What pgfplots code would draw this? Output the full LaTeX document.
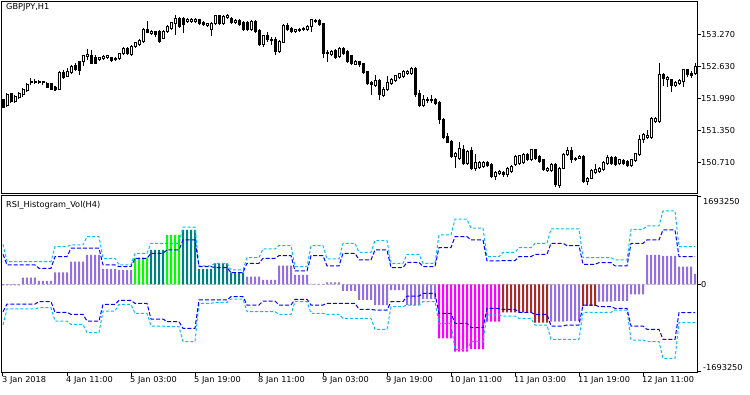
\documentclass[border=0pt]{standalone}
\usepackage{fontspec}
\setmainfont{DejaVu Sans}
\usepackage{pgfplots}
\usepackage{pgfplotstable}
\pgfplotsset{compat=1.18}
\definecolor{mpurple}{RGB}{147,112,219}
\definecolor{mlime}{RGB}{0,255,0}
\definecolor{mteal}{RGB}{0,128,128}
\definecolor{mmag}{RGB}{255,0,255}
\definecolor{mbrown}{RGB}{165,42,42}
\definecolor{mcyan}{RGB}{0,191,255}
\definecolor{mblue}{RGB}{0,0,255}
\definecolor{mgray}{RGB}{192,192,192}

\pgfplotstableread{
i o h l c
0 151.956 151.983 151.789 151.809
1 151.836 152.089 151.823 152.056
2 152.076 152.103 151.903 151.923
3 151.923 152.049 151.889 152.023
4 152.009 152.123 151.983 152.089
5 152.056 152.189 152.023 152.156
6 152.143 152.289 152.123 152.256
7 152.303 152.389 152.256 152.323
8 152.309 152.369 152.276 152.329
9 152.303 152.356 152.276 152.323
10 152.296 152.343 152.256 152.316
11 152.289 152.316 152.189 152.209
12 152.276 152.289 152.156 152.169
13 152.209 152.236 152.143 152.156
14 152.169 152.529 152.156 152.503
15 152.503 152.556 152.383 152.409
16 152.423 152.589 152.409 152.523
17 152.503 152.656 152.476 152.623
18 152.636 152.689 152.529 152.556
19 152.723 152.743 152.456 152.543
20 152.716 152.856 152.636 152.836
21 152.823 152.969 152.756 152.856
22 152.836 152.956 152.676 152.689
23 152.809 152.856 152.669 152.689
24 152.769 152.823 152.743 152.796
25 152.789 152.849 152.756 152.823
26 152.796 152.856 152.769 152.836
27 152.796 152.823 152.716 152.743
28 152.756 152.809 152.729 152.783
29 152.783 152.903 152.756 152.876
30 152.876 153.023 152.849 152.983
31 152.983 153.009 152.863 152.889
32 152.856 153.056 152.836 153.023
33 153.023 153.123 153.003 153.103
34 153.056 153.169 153.036 153.136
35 153.123 153.389 153.103 153.369
36 153.356 153.543 153.289 153.309
37 153.289 153.356 153.263 153.316
38 153.323 153.343 153.223 153.256
39 153.323 153.356 153.103 153.123
40 153.189 153.356 153.169 153.323
41 153.316 153.449 153.289 153.423
42 153.383 153.523 153.356 153.503
43 153.489 153.656 153.256 153.589
44 153.589 153.623 153.396 153.423
45 153.583 153.609 153.303 153.456
46 153.516 153.589 153.489 153.556
47 153.516 153.596 153.489 153.569
48 153.529 153.589 153.503 153.569
49 153.556 153.583 153.463 153.489
50 153.503 153.529 153.436 153.456
51 153.443 153.503 153.423 153.476
52 153.369 153.516 153.236 153.489
53 153.476 153.656 153.449 153.636
54 153.636 153.663 153.456 153.476
55 153.489 153.656 153.463 153.623
56 153.609 153.676 153.583 153.636
57 153.589 153.623 153.476 153.503
58 153.503 153.569 153.476 153.543
59 153.543 153.569 153.436 153.456
60 153.503 153.529 153.343 153.369
61 153.503 153.529 153.329 153.356
62 153.356 153.556 153.329 153.523
63 153.523 153.556 153.303 153.323
64 153.343 153.369 153.036 153.056
65 153.056 153.263 153.023 153.236
66 153.236 153.323 153.123 153.156
67 153.143 153.223 153.056 153.169
68 153.169 153.209 152.856 152.923
69 152.923 153.156 152.903 153.123
70 153.103 153.476 153.089 153.436
71 153.436 153.489 153.343 153.369
72 153.389 153.423 153.289 153.323
73 153.323 153.383 153.303 153.356
74 153.343 153.396 153.316 153.369
75 153.356 153.423 153.329 153.389
76 153.369 153.449 153.343 153.423
77 153.423 153.583 153.323 153.556
78 153.523 153.576 153.489 153.543
79 153.543 153.569 153.436 153.456
80 153.476 153.489 152.789 152.889
81 152.876 152.956 152.723 152.903
82 152.856 152.956 152.836 152.923
83 152.943 152.969 152.783 152.809
84 152.823 153.009 152.796 152.989
85 152.989 153.009 152.863 152.889
86 152.923 152.956 152.689 152.723
87 152.836 152.863 152.649 152.676
88 152.669 152.756 152.649 152.723
89 152.723 152.743 152.623 152.656
90 152.676 152.703 152.476 152.503
91 152.523 152.543 152.263 152.289
92 152.303 152.329 152.056 152.256
93 152.236 152.456 152.209 152.343
94 152.343 152.369 151.956 152.056
95 152.036 152.209 152.009 152.169
96 152.156 152.436 152.129 152.303
97 152.276 152.396 152.249 152.369
98 152.343 152.463 152.316 152.436
99 152.409 152.503 152.383 152.476
100 152.423 152.556 152.396 152.523
101 152.489 152.556 152.463 152.523
102 152.489 152.609 152.463 152.589
103 152.589 152.609 152.009 152.056
104 152.076 152.156 151.809 151.836
105 151.836 152.056 151.809 151.969
106 151.943 152.023 151.889 151.963
107 151.943 152.056 151.889 151.963
108 151.969 151.989 151.863 151.889
109 151.903 151.929 151.476 151.556
110 151.569 151.596 151.183 151.209
111 151.223 151.289 151.089 151.103
112 151.123 151.156 150.796 150.823
113 150.823 150.923 150.589 150.876
114 150.789 151.123 150.756 150.989
115 150.969 151.056 150.649 150.676
116 150.676 150.956 150.649 150.923
117 150.943 151.023 150.556 150.589
118 150.589 150.876 150.543 150.703
119 150.609 150.729 150.583 150.703
120 150.623 150.729 150.596 150.703
121 150.703 150.729 150.609 150.636
122 150.656 150.689 150.396 150.423
123 150.423 150.529 150.356 150.503
124 150.489 150.556 150.463 150.516
125 150.503 150.543 150.423 150.456
126 150.456 150.623 150.423 150.589
127 150.523 150.656 150.489 150.623
128 150.656 150.849 150.636 150.823
129 150.689 150.863 150.663 150.836
130 150.703 150.889 150.676 150.856
131 150.856 150.889 150.729 150.756
132 150.756 150.983 150.729 150.956
133 150.956 150.983 150.756 150.789
134 150.823 150.849 150.689 150.723
135 150.756 150.783 150.543 150.569
136 150.543 150.623 150.516 150.589
137 150.543 150.689 150.516 150.656
138 150.656 150.689 150.223 150.256
139 150.236 150.623 150.189 150.589
140 150.589 150.889 150.569 150.856
141 150.856 151.023 150.836 150.943
142 150.943 151.023 150.689 150.769
143 150.769 150.823 150.743 150.789
144 150.789 150.849 150.769 150.823
145 150.823 150.849 150.303 150.323
146 150.323 150.423 150.256 150.389
147 150.389 150.569 150.369 150.543
148 150.503 150.676 150.476 150.556
149 150.523 150.623 150.503 150.589
150 150.569 150.729 150.543 150.703
151 150.689 150.849 150.663 150.809
152 150.809 150.836 150.663 150.689
153 150.809 150.836 150.636 150.656
154 150.676 150.783 150.649 150.756
155 150.743 150.769 150.663 150.689
156 150.723 150.756 150.609 150.636
157 150.636 150.783 150.609 150.756
158 150.743 150.903 150.716 150.876
159 150.856 151.263 150.836 151.169
160 151.169 151.289 151.089 151.256
161 151.209 151.356 151.183 151.236
162 151.209 151.623 151.183 151.589
163 151.523 151.623 151.503 151.589
164 151.523 152.689 151.503 152.456
165 152.456 152.503 152.236 152.389
166 152.356 152.436 152.223 152.409
167 152.356 152.383 152.123 152.236
168 152.236 152.329 152.209 152.303
169 152.276 152.369 152.249 152.343
170 152.323 152.583 152.223 152.556
171 152.556 152.583 152.423 152.456
172 152.489 152.529 152.389 152.436
173 152.476 152.703 152.449 152.623
}\candles
\pgfplotstablecreatecol[create col/expr={min(\thisrow{o},\thisrow{c})}]{lo}\candles
\pgfplotstablecreatecol[create col/expr={max(\thisrow{c}-\thisrow{o},0)}]{up}\candles
\pgfplotstablecreatecol[create col/expr={max(\thisrow{o}-\thisrow{c},0)}]{dn}\candles
\pgfplotstablecreatecol[create col/expr={(\thisrow{h}+\thisrow{l})/2}]{m}\candles
\pgfplotstablecreatecol[create col/expr={(\thisrow{h}-\thisrow{l})/2}]{r}\candles

\pgfplotsset{
  mt/.style={anchor=south west, scale only axis, width=695pt, xmin=-0.25, xmax=173.5,
    axis line style={line width=1pt},
    tick style={black, line width=1pt}, tick align=outside, major tick length=4pt,
    ytick pos=right, xtick pos=bottom,
    tick label style={font=\fontsize{8.2}{10}\selectfont, inner sep=0pt},
    yticklabel style={anchor=west},
    scaled y ticks=false, scaled x ticks=false,
    /pgf/number format/assume math mode=true,
    /pgf/number format/1000 sep={},
  },
  hb/.style={ybar, bar width=2pt, bar shift=0pt, draw=none, fill=#1},
}

\begin{document}
\begin{tikzpicture}[font=\fontsize{8.2}{10}\selectfont]
\useasboundingbox (0,0) rectangle (750pt,394pt);
% ---------- price panel: frame, ticks and wicks
\begin{axis}[mt, at={(2pt,200pt)}, height=192pt, ymin=150.076, ymax=153.916,
  xtick=\empty, ytick={150.71,151.35,151.99,152.63,153.27},
  yticklabel style={/pgf/number format/fixed, /pgf/number format/fixed zerofill, /pgf/number format/precision=3}]
\addplot[draw=none, error bars/.cd, y dir=both, y explicit, error mark=none,
  error bar style={draw=black, solid, line width=1pt}] table[x=i, y=m, y error=r]{\candles};
\end{axis}
% ---------- candle bodies
\begin{axis}[at={(2pt,200pt)}, anchor=south west, scale only axis, width=695pt, height=192pt,
  xmin=-0.25, xmax=173.5, ymin=150.076, ymax=153.916, hide axis, ybar stacked, bar width=2pt]
\addplot[draw=none, fill=none] table[x=i, y=lo]{\candles};
\addplot[draw=black, fill=white, line width=1pt] table[x=i, y=up]{\candles};
\addplot[draw=black, fill=black, line width=1pt] table[x=i, y=dn]{\candles};
\end{axis}
% ---------- indicator panel
\begin{axis}[mt, at={(2pt,22pt)}, height=176pt, ymin=-1695000, ymax=1707000,
  ytick={-1693250,0,1693250}, yticklabels={,0,},
  xtick={0,16,32,48,64,80,96,112,128,144,160},
  xticklabels={3 Jan 2018,4 Jan 11:00,5 Jan 03:00,5 Jan 19:00,8 Jan 11:00,9 Jan 03:00,9 Jan 19:00,10 Jan 11:00,11 Jan 03:00,11 Jan 19:00,12 Jan 11:00},
  xticklabel style={anchor=north west, xshift=-1pt}]
\addplot[mgray, line width=1pt, dash pattern=on 3pt off 2pt] coordinates {(-0.25,0) (173.5,0)};
\addplot[hb=mpurple] coordinates {
(0,-20000) (1,-20000) (2,-20000) (3,-20000) (4,-20000)
(5,129000) (6,129000) (7,129000) (8,129000)
(9,65000) (10,65000) (11,65000) (12,65000)
(13,232000) (14,232000) (15,232000) (16,232000)
(17,439000) (18,439000) (19,439000) (20,439000)
(21,568000) (22,568000) (23,568000) (24,568000)
(25,297000) (26,297000) (27,297000) (28,297000)
(29,277000) (30,277000) (31,277000) (32,277000)
(61,148000) (62,148000) (63,148000) (64,148000)
(65,84000) (66,84000) (67,84000) (68,84000)
(69,361000) (70,361000) (71,361000) (72,361000)
(73,181000) (74,181000) (75,181000) (76,181000)
(77,10000) (78,10000) (79,10000) (80,10000)
(81,38000) (82,38000) (83,38000) (84,38000)
(85,-129000) (86,-129000) (87,-129000) (88,-129000)
(89,-303000) (90,-303000) (91,-303000) (92,-303000)
(93,-400000) (94,-400000) (95,-400000) (96,-400000)
(97,-110000) (98,-110000) (99,-110000) (100,-110000)
(101,-400000) (102,-400000) (103,-400000) (104,-400000)
(105,-284000) (106,-284000) (107,-284000) (108,-284000)
(137,-722000) (138,-722000) (139,-722000) (140,-722000)
(141,-710000) (142,-710000) (143,-710000) (144,-710000)
(149,-335000) (150,-335000) (151,-335000) (152,-335000)
(153,-322000) (154,-322000) (155,-322000) (156,-322000)
(157,-194000) (158,-194000) (159,-194000) (160,-194000)
(161,568000) (162,568000) (163,568000) (164,568000)
(165,548000) (166,548000) (167,548000) (168,548000)
(169,342000) (170,342000) (171,342000) (172,342000)
(173,200000)};
\addplot[hb=mlime] coordinates {
(33,516000) (34,516000) (35,516000) (36,516000)
(41,955000) (42,955000) (43,955000) (44,955000)};
\addplot[hb=mteal] coordinates {
(37,664000) (38,664000) (39,664000) (40,664000)
(45,1051000) (46,1051000) (47,1051000) (48,1051000)
(49,297000) (50,297000) (51,297000) (52,297000)
(53,406000) (54,406000) (55,406000) (56,406000)
(57,232000) (58,232000) (59,232000) (60,232000)};
\addplot[hb=mmag] coordinates {
(109,-1045000) (110,-1045000) (111,-1045000) (112,-1045000)
(113,-1303000) (114,-1303000) (115,-1303000) (116,-1303000)
(117,-1251000) (118,-1251000) (119,-1251000) (120,-1251000)
(121,-722000) (122,-722000) (123,-722000) (124,-722000)};
\addplot[hb=mbrown] coordinates {
(125,-542000) (126,-542000) (127,-542000) (128,-542000)
(129,-542000) (130,-542000) (131,-542000) (132,-542000)
(133,-742000) (134,-742000) (135,-742000) (136,-742000)
(145,-419000) (146,-419000) (147,-419000) (148,-419000)};
% upper cyan
\addplot[mcyan, line width=1pt, dash pattern=on 3pt off 2pt] coordinates {
(0,774000) (1,439000) (4,439000) (5,439000) (8,439000) (9,439000) (12,439000) (13,729000) (16,729000) (17,761000) (20,761000) (21,922000) (24,922000) (25,503000) (28,503000) (29,374000) (32,374000) (33,600000) (36,600000) (37,793000) (40,793000) (41,793000) (44,793000) (45,1103000) (48,1103000) (49,355000) (52,355000) (53,406000) (56,406000) (57,277000) (60,277000) (61,516000) (64,516000) (65,684000) (68,684000) (69,748000) (72,748000) (73,342000) (76,342000) (77,748000) (80,748000) (81,490000) (84,490000) (85,793000) (88,793000) (89,619000) (92,619000) (93,845000) (96,845000) (97,406000) (100,406000) (101,581000) (104,581000) (105,406000) (108,406000) (109,955000) (112,955000) (113,1258000) (116,1258000) (117,1084000) (120,1084000) (121,535000) (124,535000) (125,619000) (128,619000) (129,710000) (132,710000) (133,793000) (136,793000) (137,1071000) (140,1071000) (141,1071000) (144,1071000) (145,516000) (148,516000) (149,516000) (152,516000) (153,471000) (156,471000) (157,1064000) (160,1064000) (161,1129000) (164,1129000) (165,1419000) (168,1419000) (169,729000) (172,729000) (173,729000)};
% lower cyan
\addplot[mcyan, line width=1pt, dash pattern=on 3pt off 2pt] coordinates {
(0,-787000) (1,-477000) (4,-477000) (5,-477000) (8,-477000) (9,-452000) (12,-452000) (13,-710000) (16,-710000) (17,-774000) (20,-774000) (21,-935000) (24,-935000) (25,-516000) (28,-516000) (29,-387000) (32,-387000) (33,-561000) (36,-561000) (37,-806000) (40,-806000) (41,-819000) (44,-819000) (45,-1109000) (48,-1109000) (49,-368000) (52,-368000) (53,-348000) (56,-348000) (57,-284000) (60,-284000) (61,-529000) (64,-529000) (65,-529000) (68,-529000) (69,-581000) (72,-581000) (73,-335000) (76,-335000) (77,-561000) (80,-561000) (81,-581000) (84,-581000) (85,-658000) (88,-658000) (89,-658000) (92,-658000) (93,-871000) (96,-871000) (97,-432000) (100,-432000) (101,-400000) (104,-400000) (105,-335000) (108,-335000) (109,-755000) (112,-755000) (113,-1258000) (116,-1258000) (117,-1109000) (120,-1109000) (121,-593000) (124,-593000) (125,-613000) (128,-613000) (129,-658000) (132,-658000) (133,-787000) (136,-787000) (137,-1064000) (140,-1064000) (141,-1064000) (144,-1064000) (145,-542000) (148,-542000) (149,-542000) (152,-542000) (153,-497000) (156,-497000) (157,-1077000) (160,-1077000) (161,-1109000) (164,-1109000) (165,-1432000) (168,-1432000) (169,-742000) (172,-742000) (173,-742000)};
% upper blue
\addplot[mblue, line width=1pt, dash pattern=on 4pt off 2pt] coordinates {
(0,580000) (1,374000) (4,374000) (5,374000) (8,374000) (9,310000) (12,310000) (13,535000) (16,535000) (17,697000) (20,697000) (21,697000) (24,697000) (25,374000) (28,374000) (29,342000) (32,342000) (33,503000) (36,503000) (37,600000) (40,600000) (41,664000) (44,664000) (45,858000) (48,858000) (49,342000) (52,342000) (53,323000) (56,323000) (57,226000) (60,226000) (61,406000) (64,406000) (65,503000) (68,503000) (69,555000) (72,555000) (73,258000) (76,258000) (77,555000) (80,555000) (81,355000) (84,355000) (85,600000) (88,600000) (89,471000) (92,471000) (93,664000) (96,664000) (97,323000) (100,323000) (101,426000) (104,426000) (105,342000) (108,342000) (109,710000) (112,710000) (113,922000) (116,922000) (117,858000) (120,858000) (121,452000) (124,452000) (125,458000) (128,458000) (129,535000) (132,535000) (133,581000) (136,581000) (137,793000) (140,793000) (141,748000) (144,748000) (145,387000) (148,387000) (149,419000) (152,419000) (153,355000) (156,355000) (157,793000) (160,793000) (161,858000) (164,858000) (165,1051000) (168,1051000) (169,535000) (172,535000) (173,535000)};
% lower blue
\addplot[mblue, line width=1pt, dash pattern=on 4pt off 2pt] coordinates {
(0,-529000) (1,-381000) (4,-381000) (5,-381000) (8,-381000) (9,-335000) (12,-335000) (13,-542000) (16,-542000) (17,-581000) (20,-581000) (21,-710000) (24,-710000) (25,-387000) (28,-387000) (29,-310000) (32,-310000) (33,-368000) (36,-368000) (37,-671000) (40,-671000) (41,-722000) (44,-722000) (45,-851000) (48,-851000) (49,-303000) (52,-303000) (53,-303000) (56,-303000) (57,-239000) (60,-239000) (61,-400000) (64,-400000) (65,-323000) (68,-323000) (69,-400000) (72,-400000) (73,-290000) (76,-290000) (77,-400000) (80,-400000) (81,-368000) (84,-368000) (85,-368000) (88,-368000) (89,-484000) (92,-484000) (93,-497000) (96,-497000) (97,-335000) (100,-335000) (101,-226000) (104,-226000) (105,-174000) (108,-174000) (109,-561000) (112,-561000) (113,-755000) (116,-755000) (117,-839000) (120,-839000) (121,-464000) (124,-464000) (125,-484000) (128,-484000) (129,-542000) (132,-542000) (133,-581000) (136,-581000) (137,-806000) (140,-806000) (141,-787000) (144,-787000) (145,-400000) (148,-400000) (149,-432000) (152,-432000) (153,-464000) (156,-464000) (157,-806000) (160,-806000) (161,-871000) (164,-871000) (165,-1064000) (168,-1064000) (169,-548000) (172,-548000) (173,-548000)};
\end{axis}
\node[anchor=west, inner sep=0pt] at (6pt,386.5pt) {GBPJPY,H1};
\node[anchor=west, inner sep=0pt] at (6pt,188.5pt) {RSI\_Histogram\_Vol(H4)};
\node[anchor=north west, inner sep=0pt] at (703pt,196pt) {1693250};
\node[anchor=south west, inner sep=0pt] at (703pt,23pt) {-1693250};
\end{tikzpicture}
\end{document}
